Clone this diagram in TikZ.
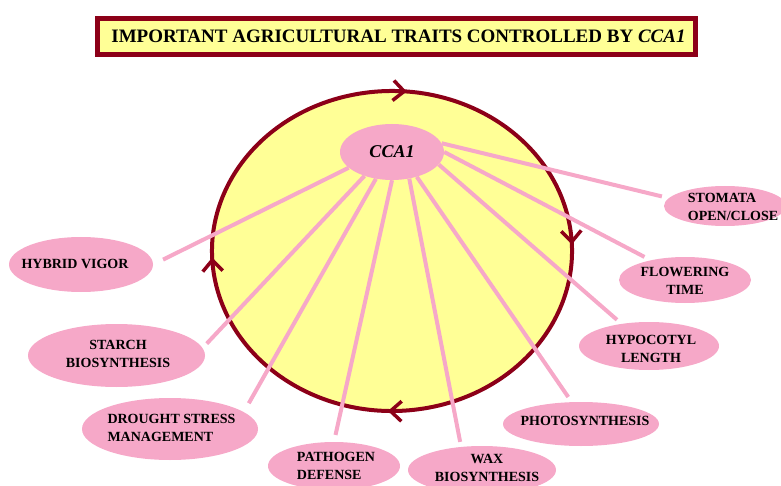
\documentclass[tikz,border=0pt]{standalone}
\usepackage{fontspec}
\setmainfont{Liberation Serif}
\usetikzlibrary{shapes.geometric,arrows.meta,decorations.markings}
\definecolor{traitpink}{RGB}{246,168,200}
\definecolor{sunyellow}{RGB}{255,255,150}
\definecolor{darkmaroon}{RGB}{140,0,24}
\begin{document}
\begin{tikzpicture}[x=1pt,y=-1pt,
    trait/.style={ellipse,fill=traitpink,inner sep=0pt},
    traittext/.style={font=\fontsize{14}{18}\selectfont\bfseries,text=black},
    link/.style={draw=traitpink,line width=4pt},
    cyclebarb/.tip={Straight Barb[length=11pt,width=20pt,line width=3.5pt]},
    titlebox/.style={draw=darkmaroon,line width=5.5pt,fill=sunyellow,inner sep=0pt,
        font=\fontsize{19}{22}\selectfont\bfseries}]
    \useasboundingbox (0,0) rectangle (781,486);
    \node[titlebox,minimum width=598,minimum height=36](title) at (396.5,36.5)
        {\hspace*{4pt}IMPORTANT AGRICULTURAL TRAITS CONTROLLED BY \textit{CCA1}};
    % the cycle
    \draw[darkmaroon,line width=4pt,fill=sunyellow,
        decoration={markings,
            mark=at position 0.02 with {\arrow{cyclebarb}},
            mark=at position 0.29 with {\arrow{cyclebarb}},
            mark=at position 0.52 with {\arrow{cyclebarb}},
            mark=at position 0.78 with {\arrow{cyclebarb}}},
        postaction={decorate}]
        (392,251) ++(170:180 and 160) arc[start angle=170,end angle=530,x radius=180,y radius=160];
    \node[trait,minimum width=104,minimum height=56,font=\fontsize{18}{20}\selectfont\bfseries\itshape](cca1) at (392,152){CCA1};
    % traits
    \node[trait,minimum width=122,minimum height=40](stomata) at (725,206){};
    \node[traittext,align=left] at (733,206.5){STOMATA\\OPEN/CLOSE};
    \node[trait,minimum width=132,minimum height=46](flowering) at (685,280){};
    \node[traittext,align=center] at (685,281){FLOWERING\\TIME};
    \node[trait,minimum width=140,minimum height=48](hypocotyl) at (649,346){};
    \node[traittext,align=center] at (651,348.5){HYPOCOTYL\\LENGTH};
    \node[trait,minimum width=156,minimum height=44](photo) at (581,424){};
    \node[traittext] at (585,421){PHOTOSYNTHESIS};
    \node[trait,minimum width=148,minimum height=48](wax) at (482,470){};
    \node[traittext,align=center] at (487,467.5){WAX\\BIOSYNTHESIS};
    \node[trait,minimum width=132,minimum height=48](pathogen) at (334,466){};
    \node[traittext,align=left] at (336,465.5){PATHOGEN\\DEFENSE};
    \node[trait,minimum width=176,minimum height=62](drought) at (170,429){};
    \node[traittext,align=left] at (171.5,428){DROUGHT STRESS\\MANAGEMENT};
    \node[trait,minimum width=177,minimum height=63](starch) at (116.5,355.5){};
    \node[traittext,align=center] at (118,354){STARCH\\BIOSYNTHESIS};
    \node[trait,minimum width=144,minimum height=55](hybrid) at (81,264.5){};
    \node[traittext] at (75,264){HYBRID VIGOR};
    % links from CCA1
    \draw[link,shorten >=7pt](cca1.10) -- (stomata.172);
    \draw[link,shorten >=7pt](cca1.east) -- (flowering.150);
    \draw[link,shorten >=6pt](cca1.345) -- (hypocotyl.141);
    \draw[link,shorten >=6pt](cca1.315) -- (photo.113);
    \draw[link,shorten >=5pt](cca1.303) -- (wax.132);
    \draw[link,shorten >=7pt](cca1.south) -- (pathogen.north);
    \draw[link,shorten >=10pt](cca1.239) -- (drought.13);
    \draw[link,shorten >=6pt](cca1.221) -- (starch.5);
    \draw[link,shorten >=11pt](cca1.200) -- (hybrid.east);
\end{tikzpicture}
\end{document}
